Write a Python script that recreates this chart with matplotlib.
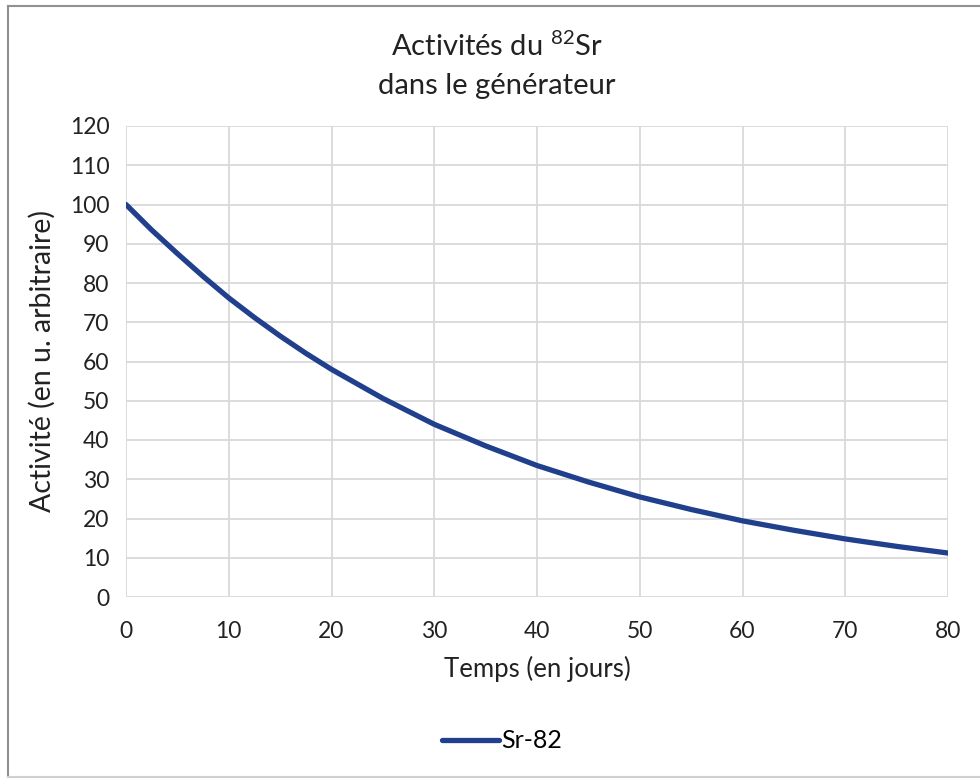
import matplotlib
matplotlib.use("Agg")
import matplotlib.pyplot as plt
from matplotlib.lines import Line2D

plt.rcParams['font.family'] = ['Lato', 'DejaVu Sans']
plt.rcParams['mathtext.fontset'] = 'custom'
plt.rcParams['mathtext.rm'] = 'Lato'

# activity of Sr-82
jours = [0, 2.5, 5, 7.5, 10, 12.5, 15, 17.5, 20, 25, 30, 35, 40, 45, 50,
         55, 60, 65, 70, 75, 80]
activite = [100, 93.5, 87.5, 81.7, 76.2, 71.2, 66.5, 62.1, 58.0, 50.6, 44.0,
            38.5, 33.5, 29.3, 25.5, 22.3, 19.4, 17.0, 14.8, 12.9, 11.2]

xticks = list(range(0, 81, 10))
yticks = list(range(0, 121, 10))

W, H = 980, 779
fig = plt.figure(figsize=(W / 100, H / 100), dpi=100)
ax = fig.add_axes([126 / W, 1 - 597 / H, (948 - 126) / W, (597 - 126) / H])

ax.plot(jours, activite, color='#203f8c', lw=3.8, solid_capstyle='round',
        solid_joinstyle='round', label='Sr-82')

ax.set_xlim(0, 80)
ax.set_ylim(0, 120)
ax.set_xticks(xticks)
ax.set_yticks(yticks)
ax.grid(True, color='#d9d9d9', lw=1.3)
ax.set_axisbelow(True)
for s in ax.spines.values():
    s.set_visible(False)
ax.tick_params(length=0, labelsize=16.5, colors='#222222', pad=12)
ax.tick_params(axis='x', pad=17)

ax.set_xlabel('Temps (en jours)', fontsize=18.5, color='#222222', labelpad=10)
ax.set_ylabel('Activité (en u. arbitraire)', fontsize=20.5, color='#222222', labelpad=10)

fig.text(497 / W, 1 - 46 / H, 'Activités du $^{82}$Sr', ha='center', va='center',
         fontsize=21, color='#222222')
fig.text(497 / W, 1 - 86 / H, 'dans le générateur', ha='center', va='center',
         fontsize=21, color='#222222')

# legend below the plot
handle = Line2D([], [], color='#203f8c', lw=3.8, solid_capstyle='round')
fig.legend([handle], ['Sr-82'], loc='center', bbox_to_anchor=(502 / W, 1 - 741 / H),
           frameon=False, fontsize=18, handlelength=2.3, handletextpad=0.1)

# chart frame
fig.add_artist(Line2D([8 / W, 8 / W], [1 - 6 / H, 1 - 777 / H], color='#909090', lw=1.5))
fig.add_artist(Line2D([8 / W, 1.0], [1 - 6 / H, 1 - 6 / H], color='#909090', lw=1.5))
fig.add_artist(Line2D([8 / W, 1.0], [1 - 777 / H, 1 - 777 / H], color='#d0d0d0', lw=1.5))

fig.savefig('out.png', dpi=100)
